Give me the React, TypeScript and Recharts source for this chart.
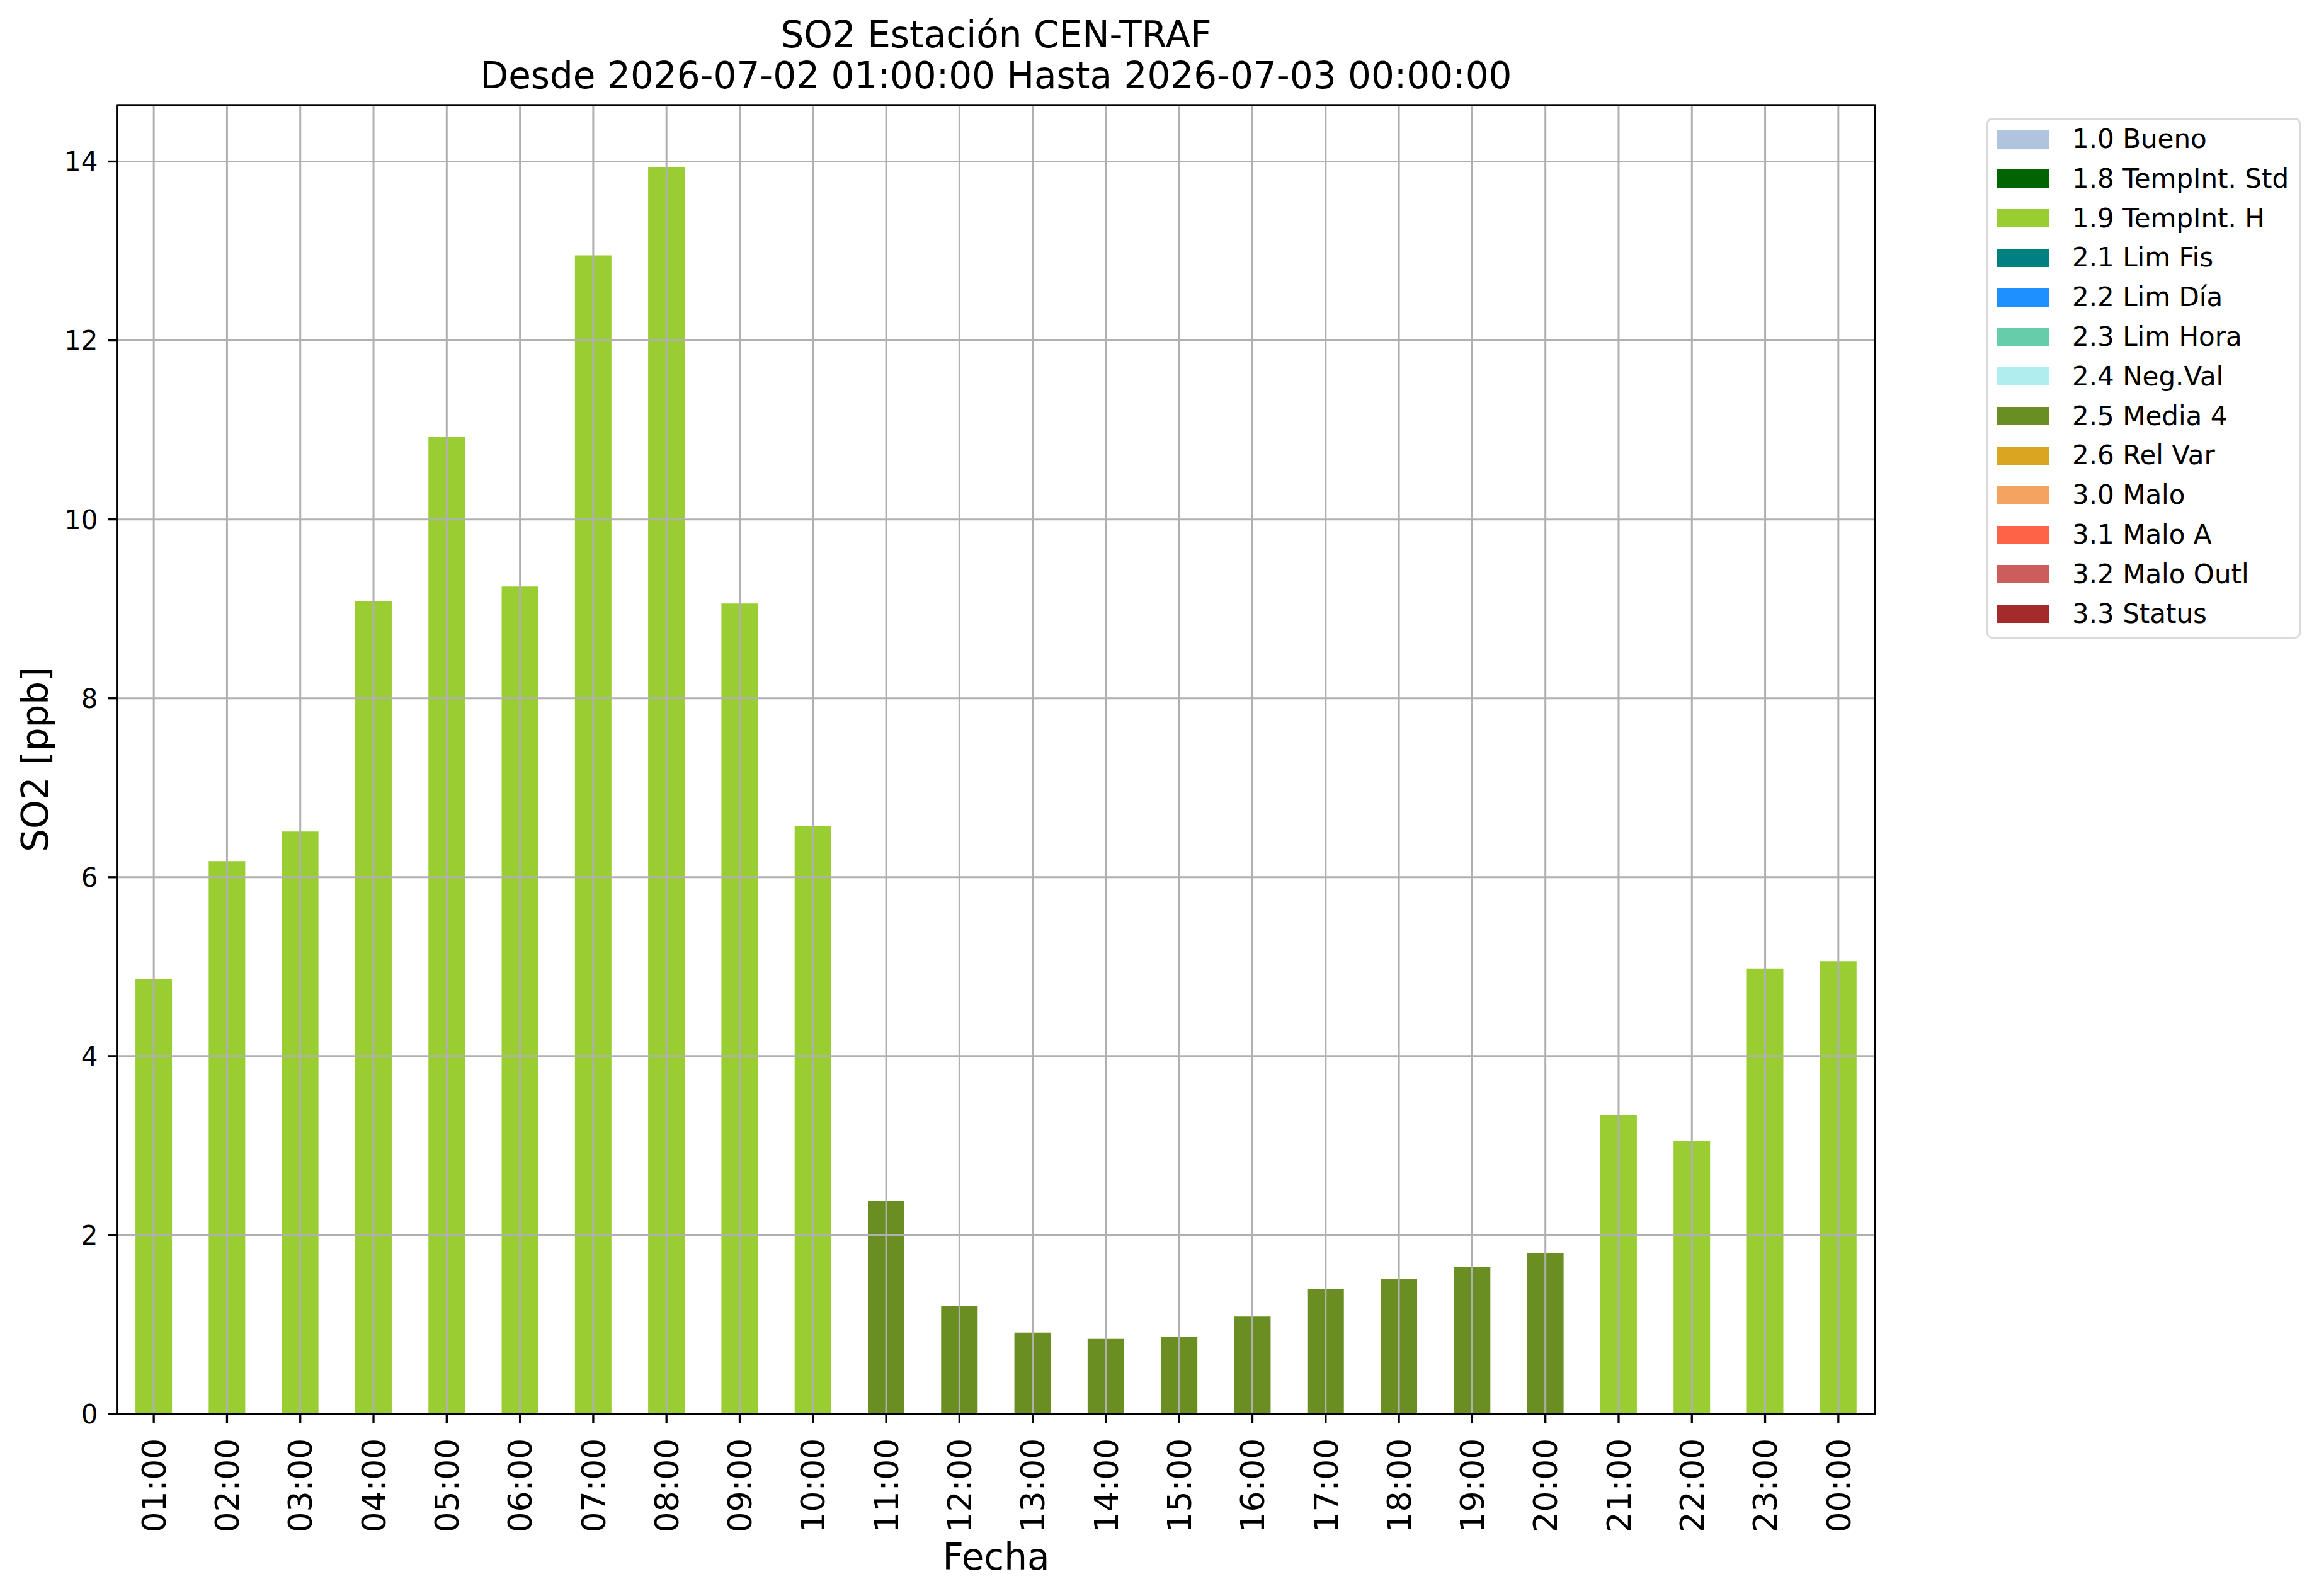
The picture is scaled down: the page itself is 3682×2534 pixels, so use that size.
import React from "react"
import {
  BarChart,
  Bar,
  XAxis,
  YAxis,
  CartesianGrid,
  Legend,
} from "recharts"

const hours = [
  "01:00", "02:00", "03:00", "04:00", "05:00", "06:00", "07:00", "08:00",
  "09:00", "10:00", "11:00", "12:00", "13:00", "14:00", "15:00", "16:00",
  "17:00", "18:00", "19:00", "20:00", "21:00", "22:00", "23:00", "00:00",
]

const so2 = [
  4.86, 6.18, 6.51, 9.09, 10.92, 9.25, 12.95, 13.94, 9.06, 6.57, 2.38, 1.21,
  0.91, 0.84, 0.86, 1.09, 1.4, 1.51, 1.64, 1.8, 3.34, 3.05, 4.98, 5.06,
]

// quality flag of each hour
const hourFlags = [
  "1.9", "1.9", "1.9", "1.9", "1.9", "1.9", "1.9", "1.9", "1.9", "1.9",
  "2.5", "2.5", "2.5", "2.5", "2.5", "2.5", "2.5", "2.5", "2.5", "2.5",
  "1.9", "1.9", "1.9", "1.9",
]

const flagCodes = [
  "1.0", "1.8", "1.9", "2.1", "2.2", "2.3", "2.4", "2.5", "2.6", "3.0", "3.1", "3.2", "3.3",
]

const flagLabels = [
  "1.0 Bueno",
  "1.8 TempInt. Std",
  "1.9 TempInt. H",
  "2.1 Lim Fis",
  "2.2 Lim Día",
  "2.3 Lim Hora",
  "2.4 Neg.Val",
  "2.5 Media 4",
  "2.6 Rel Var",
  "3.0 Malo",
  "3.1 Malo A",
  "3.2 Malo Outl",
  "3.3 Status",
]

const flagColors = [
  "#B0C4DE", "#006400", "#9ACD32", "#008080", "#1E90FF", "#66CDAA", "#AFEEEE",
  "#6B8E23", "#DAA520", "#F4A460", "#FF6347", "#CD5C5C", "#A52A2A",
]

const yTicks = [0, 2, 4, 6, 8, 10, 12, 14]

const FONT = "DejaVu Sans"

const W = 3682
const H = 2534
const PLOT_LEFT = 186
const PLOT_RIGHT = 2977
const PLOT_TOP = 167
const PLOT_BOTTOM = 2245
const PLOT_MID = (PLOT_LEFT + PLOT_RIGHT) / 2

function HourTick(props: any) {
  const { x, y, payload } = props
  return (
    <text
      x={x}
      y={y}
      transform={`rotate(-90, ${x}, ${y})`}
      textAnchor="end"
      dy="0.36em"
      fontSize={52}
      fontFamily={FONT}
      fill="#000"
    >
      {payload.value}
    </text>
  )
}

function FlagLegend(props: any) {
  const items =
    props.payload && props.payload.length
      ? props.payload.map((p: any) => ({ label: p.value, color: p.color }))
      : flagLabels.map((l, i) => ({ label: l, color: flagColors[i] }))
  return (
    <div
      style={{
        position: "relative",
        width: 499,
        height: 827,
        boxSizing: "border-box",
        border: "3px solid #d9d9d9",
        borderRadius: 9,
        background: "#fff",
        fontFamily: FONT,
      }}
    >
      {items.map((it: any, i: number) => (
        <div
          key={it.label}
          style={{
            position: "absolute",
            left: 14,
            top: i * 62.8,
            height: 62,
            display: "flex",
            alignItems: "center",
            whiteSpace: "nowrap",
          }}
        >
          <div style={{ width: 83, height: 29, background: it.color }} />
          <span style={{ marginLeft: 36, fontSize: 42, color: "#000", lineHeight: 1 }}>
            {it.label}
          </span>
        </div>
      ))}
    </div>
  )
}

export default function App() {
  const chartData = hours.map((h, i) => {
    const row: Record<string, any> = { hour: h }
    flagCodes.forEach((code, k) => {
      row[`f${k}`] = hourFlags[i] === code ? so2[i] : 0
    })
    return row
  })

  const midY = (PLOT_TOP + PLOT_BOTTOM) / 2

  return (
    <div style={{ position: "absolute", left: 0, top: 0, width: W, height: H, background: "#fff" }}>
      <BarChart
        width={W}
        height={H}
        data={chartData}
        margin={{ top: PLOT_TOP, right: W - PLOT_RIGHT, left: 0, bottom: 0 }}
        barCategoryGap="25%"
        barGap={0}
      >
        <XAxis
          dataKey="hour"
          interval={0}
          height={H - PLOT_BOTTOM}
          tick={<HourTick />}
          tickSize={14.6}
          tickMargin={24}
          tickLine={{ stroke: "#000", strokeWidth: 3.3 }}
          axisLine={{ stroke: "#000", strokeWidth: 3.3 }}
        />
        <YAxis
          type="number"
          domain={[0, 14.63]}
          ticks={yTicks}
          width={PLOT_LEFT}
          tickSize={14.6}
          tickMargin={16}
          tick={{ fontSize: 42, fontFamily: FONT, fill: "#000" }}
          tickLine={{ stroke: "#000", strokeWidth: 3.3 }}
          axisLine={{ stroke: "#000", strokeWidth: 3.3 }}
        />
        {flagLabels.map((label, k) => (
          <Bar
            key={label}
            dataKey={`f${k}`}
            name={label}
            stackId="flags"
            fill={flagColors[k]}
            isAnimationActive={false}
          />
        ))}
        <CartesianGrid stroke="#b0b0b0" strokeWidth={3} zIndex={450} />
        <Legend
          layout="horizontal"
          align="center"
          verticalAlign="middle"
          content={<FlagLegend />}
          wrapperStyle={{ left: 3154, top: 187, width: 499, height: 827 }}
        />
      </BarChart>
      <svg
        width={W}
        height={H}
        style={{ position: "absolute", left: 0, top: 0, pointerEvents: "none" }}
      >
        {/* axes frame (spines) */}
        <rect
          x={PLOT_LEFT}
          y={PLOT_TOP}
          width={PLOT_RIGHT - PLOT_LEFT}
          height={PLOT_BOTTOM - PLOT_TOP}
          fill="none"
          stroke="#000"
          strokeWidth={3.3}
        />
        <g fontFamily={FONT} fill="#000" fontSize={58} textAnchor="middle">
          <text x={PLOT_MID} y={75}>SO2 Estación CEN-TRAF</text>
          <text x={PLOT_MID} y={140}>Desde 2026-07-02 01:00:00 Hasta 2026-07-03 00:00:00</text>
          <text x={PLOT_MID} y={2492}>Fecha</text>
          <text x={76} y={midY} transform={`rotate(-90, 76, ${midY})`}>
            SO2 [ppb]
          </text>
        </g>
      </svg>
    </div>
  )
}
